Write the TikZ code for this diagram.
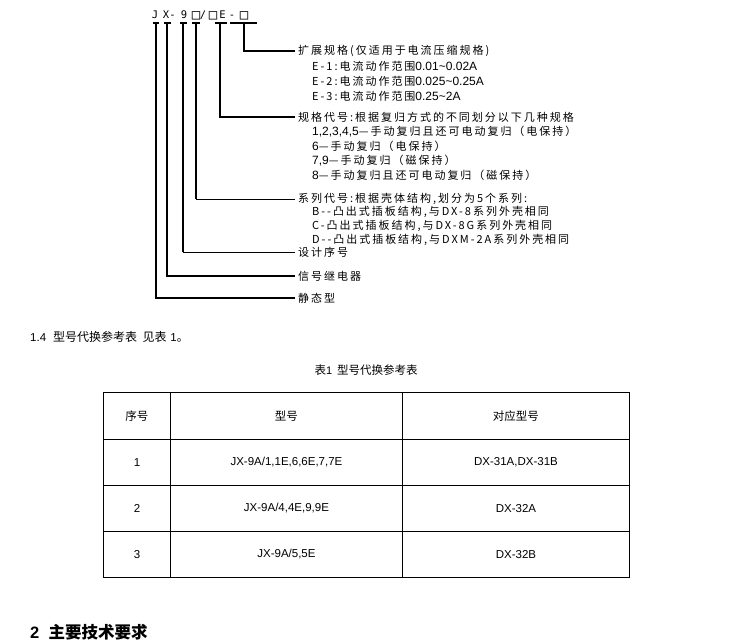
\documentclass[tikz,border=0pt]{standalone}
\usepackage{fontspec}
\setmainfont{Liberation Sans}
\newfontfamily\cjk{Noto Sans CJK SC}
\newfontfamily\treefont[LetterSpace=18]{Noto Sans CJK SC}
\newfontfamily\arfont{Liberation Sans}
\newfontfamily\titlefont{DejaVu Sans Mono}
\newcommand\arpart[1]{{\arfont\fontsize{12}{13}\selectfont #1}}
\begin{document}
\begin{tikzpicture}[x=1pt,y=-1pt,
  tline/.style={line width=2pt},
  thinline/.style={line width=1pt},
  bar/.style={line width=2pt},
  lbl/.style={anchor=west,inner xsep=3pt,inner ysep=0pt,font=\treefont\fontsize{11}{13}\selectfont},
  sublbl/.style={anchor=west,inner sep=0pt,font=\treefont\fontsize{11}{13}\selectfont},
  tch/.style={inner sep=0pt,anchor=base,font=\titlefont\fontsize{10.5}{12}\selectfont},
  tbox/.style={inner sep=0pt,anchor=base,font=\titlefont\fontsize{14}{14}\selectfont},
  cell/.style={draw=black,line width=0.9pt,anchor=north west,inner sep=0pt,font=\fontsize{11.5}{13}\selectfont}]
\fill[white] (0,0) rectangle (743,642);
\useasboundingbox (0,0) rectangle (743,642);
% title characters
\node[tch] (t1) at (155,19) {J};
\node[tch] (t2) at (166,19) {X};
\node[tch] (t3) at (172.5,19) {-};
\node[tch] (t4) at (184,19) {9};
\node[tbox] (t5) at (196,19.5) {□};
\node[tch] (t6) at (203,19) {/};
\node[tbox] (t7) at (213,19.5) {□};
\node[tch] (t8) at (222.5,19) {E};
\node[tch] (t9) at (232,19) {-};
\node[tbox] (t10) at (244,19.5) {□};
% tick points
\coordinate (bJ) at (156,23);
\coordinate (bX) at (167,23);
\coordinate (b9) at (183,23);
\coordinate (bS) at (196,23);
\coordinate (bG) at (220,23);
\coordinate (bE) at (244,23);
\draw[bar] ([xshift=-3.5pt]bJ) -- ([xshift=3pt]bJ);
\draw[bar] ([xshift=-3.5pt]bX) -- ([xshift=3.5pt]bX);
\draw[bar] ([xshift=-3pt]b9) -- ([xshift=4pt]b9);
\draw[bar] ([xshift=-4pt]bS) -- ([xshift=4pt]bS);
\draw[bar] ([xshift=-5pt]bG) -- ([xshift=7pt]bG);
\draw[bar] ([xshift=-14pt]bE) -- ([xshift=13pt]bE);
% labels
\node[lbl] (l1) at (295,51) {扩展规格(仅适用于电流压缩规格)};
\node[sublbl] (e1) at (312,66) {E-1:电流动作范围\arpart{0.01\textasciitilde 0.02A}};
\node[sublbl] (e2) at (312,81) {E-2:电流动作范围\arpart{0.025\textasciitilde 0.25A}};
\node[sublbl] (e3) at (312,96) {E-3:电流动作范围\arpart{0.25\textasciitilde 2A}};
\node[lbl] (l2) at (295,117) {规格代号:根据复归方式的不同划分以下几种规格};
\node[sublbl] (g1) at (312,132) {\arpart{1,2,3,4,5}—手动复归且还可电动复归（电保持）};
\node[sublbl] (g2) at (312,146) {\arpart{6}—手动复归（电保持）};
\node[sublbl] (g3) at (312,161) {\arpart{7,9}—手动复归（磁保持）};
\node[sublbl] (g4) at (312,175) {\arpart{8}—手动复归且还可电动复归（磁保持）};
\node[lbl] (l3) at (295,199) {系列代号:根据壳体结构,划分为5个系列:};
\node[sublbl] (s1) at (312,212) {B--凸出式插板结构,与DX-8系列外壳相同};
\node[sublbl] (s2) at (312,226) {C-凸出式插板结构,与DX-8G系列外壳相同};
\node[sublbl] (s3) at (312,240) {D--凸出式插板结构,与DXM-2A系列外壳相同};
\node[lbl] (l4) at (295,252) {设计序号};
\node[lbl] (l5) at (295,276) {信号继电器};
\node[lbl] (l6) at (295,298) {静态型};
% connectors
\draw[tline] (bE) |- (l1.west);
\draw[tline] (bG) |- (l2.west);
\draw[tline] (bS) -- (bS |- l3.west);
\draw[thinline] (bS |- l3.west) -- (l3.west);
\draw[tline] (b9) -- (b9 |- l4.west);
\draw[thinline] (b9 |- l4.west) -- (l4.west);
\draw[tline] (bX) |- (l5.west);
\draw[tline] (bJ) |- (l6.west);
% section text
\node[anchor=west,inner sep=0pt,font=\fontsize{11.5}{13}\selectfont] (sec14) at (30,337) {1.4\,\, {\cjk\fontsize{12}{13}\selectfont 型号代换参考表\ \ 见表}\,\,1{\cjk 。}};
\node[inner sep=0pt,font=\fontsize{11}{13}\selectfont] (cap) at (366,370) {{\cjk\fontsize{11.5}{13}\selectfont 表}1\, {\cjk\fontsize{11.5}{13}\selectfont 型号代换参考表}};
% table
\node[cell,minimum width=67pt,minimum height=47pt] (h1) at (103,392) {\cjk 序号};
\node[cell,minimum width=232pt,minimum height=47pt] (h2) at (170,392) {\cjk 型号};
\node[cell,minimum width=227pt,minimum height=47pt] (h3) at (402,392) {\cjk 对应型号};
\node[cell,minimum width=67pt,minimum height=46pt] (a1) at (103,439) {1};
\node[cell,minimum width=232pt,minimum height=46pt] (a2) at (170,439) {JX-9A/1,1E,6,6E,7,7E};
\node[cell,minimum width=227pt,minimum height=46pt] (a3) at (402,439) {DX-31A,DX-31B};
\node[cell,minimum width=67pt,minimum height=46pt] (b1) at (103,485) {2};
\node[cell,minimum width=232pt,minimum height=46pt] (b2) at (170,485) {JX-9A/4,4E,9,9E};
\node[cell,minimum width=227pt,minimum height=46pt] (b3) at (402,485) {DX-32A};
\node[cell,minimum width=67pt,minimum height=46pt] (c1) at (103,531) {3};
\node[cell,minimum width=232pt,minimum height=46pt] (c2) at (170,531) {JX-9A/5,5E};
\node[cell,minimum width=227pt,minimum height=46pt] (c3) at (402,531) {DX-32B};
% heading 2
\node[anchor=west,inner sep=0pt,font=\fontsize{16.5}{18}\selectfont\bfseries] (sec2) at (30,632) {2\ \ {\cjk\bfseries 主要技术要求}};
\end{tikzpicture}
\end{document}
